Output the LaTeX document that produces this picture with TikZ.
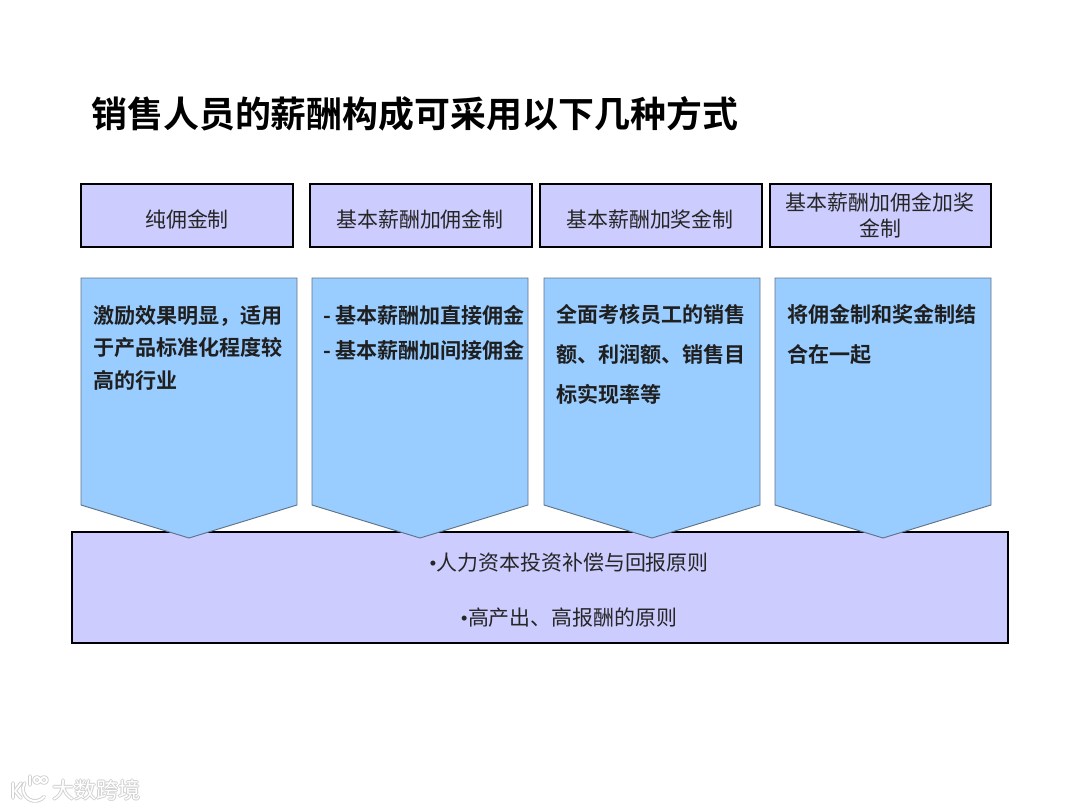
\documentclass[tikz,border=0pt]{standalone}
\usepackage{fontspec}
\setmainfont{Noto Sans CJK SC}
\newfontfamily\cjkb{Noto Sans CJK SC Bold}
\newfontfamily\bulletfont{Liberation Serif}
\definecolor{lav}{HTML}{CCCCFF}
\definecolor{sky}{HTML}{99CCFF}
\definecolor{edgeb}{HTML}{5F7486}
\definecolor{wm}{HTML}{D0D0D0}
\newcommand{\bul}{{\bulletfont •}}
\tikzset{
 x=0.75pt,y=-0.75pt,
 hbox/.style={draw=black,line width=2.1pt,fill=lav},
 penta/.style={draw=edgeb,line width=0.7pt,fill=sky},
 htext/.style={align=center,inner sep=0pt,font=\fontsize{15.7pt}{19.5pt}\selectfont,text=black!85,text width=150pt},
 btext/.style={align=left,anchor=north west,inner sep=0pt,text=black!88},
 ctext/.style={inner sep=0pt,font=\fontsize{15.7pt}{19pt}\selectfont,text=black!85},
 wmtext/.style={inner sep=0pt,font=\fontsize{16.5pt}{18pt}\selectfont},
 logoback/.style={draw=wm,line width=2.8pt,line cap=round,line join=round},
 logofront/.style={draw=white,line width=1.4pt,line cap=round,line join=round}
}
\begin{document}
\begin{tikzpicture}
\useasboundingbox (0,0) rectangle (1080,810);
\fill[white] (0,0) rectangle (1080,810);
\node[anchor=west,inner sep=0pt,font=\cjkb\fontsize{26.95pt}{30pt}\selectfont,text=black] (title) at (91,114) {销售人员的薪酬构成可采用以下几种方式};
% headers
\draw[hbox] (81,184) rectangle (293,247);
\draw[hbox] (310,184) rectangle (532,247);
\draw[hbox] (540,184) rectangle (762,247);
\draw[hbox] (770,184) rectangle (991,247);
\node[htext] (h1) at (187,219.5) {纯佣金制};
\node[htext] (h2) at (420,219.5) {基本薪酬加佣金制};
\node[htext] (h3) at (650,219.5) {基本薪酬加奖金制};
\node[htext] (h4) at (880,215.5) {基本薪酬加佣金加奖\\金制};
% bottom
\draw[hbox] (72,532) rectangle (1008,643);
\node[ctext] (c1) at (569,563) {\bul 人力资本投资补偿与回报原则};
\node[ctext] (c2) at (569,618) {\bul 高产出、高报酬的原则};
% pentagons
\draw[penta] (81,278) -- (297,278) -- (297,505) -- (189,538) -- (81,505) -- cycle;
\draw[penta] (312,278) -- (528,278) -- (528,505) -- (420,538) -- (312,505) -- cycle;
\draw[penta] (544,278) -- (760,278) -- (760,505) -- (652,538) -- (544,505) -- cycle;
\draw[penta] (775,278) -- (991,278) -- (991,505) -- (883,538) -- (775,505) -- cycle;
\node[btext,font=\cjkb\fontsize{15.8pt}{24.5pt}\selectfont] (b1) at (93,305) {激励效果明显，适用\\于产品标准化程度较\\高的行业};
\node[btext,font=\cjkb\fontsize{15.8pt}{26pt}\selectfont] (b2) at (323,305) {-\kern3pt 基本薪酬加直接佣金\\-\kern3pt 基本薪酬加间接佣金};
\node[btext,font=\cjkb\fontsize{15.8pt}{30pt}\selectfont] (b3) at (556,304) {全面考核员工的销售\\额、利润额、销售目\\标实现率等};
\node[btext,font=\cjkb\fontsize{15.8pt}{30pt}\selectfont] (b4) at (787,304) {将佣金制和奖金制结\\合在一起};
% watermark
\foreach \dx/\dy in {-1/0,1/0,0/-1,0/1}{
 \node[wmtext,anchor=west,text=wm] at (52+\dx,790+\dy) {大数跨境};
}
\node[wmtext,anchor=west,text=white] (wm1) at (52,790) {大数跨境};
\draw[logoback] (13,783) -- (13,798) (21,783) -- (15,791) -- (21,798)
 (24.6,783) arc[start angle=-150,end angle=-320,radius=12]
 (30,776) -- (30,785) (37,780) circle[radius=3] (44,780) circle[radius=3];
\draw[logofront] (13,783) -- (13,798) (21,783) -- (15,791) -- (21,798)
 (24.6,783) arc[start angle=-150,end angle=-320,radius=12]
 (30,776) -- (30,785) (37,780) circle[radius=3] (44,780) circle[radius=3];
\end{tikzpicture}
\end{document}
